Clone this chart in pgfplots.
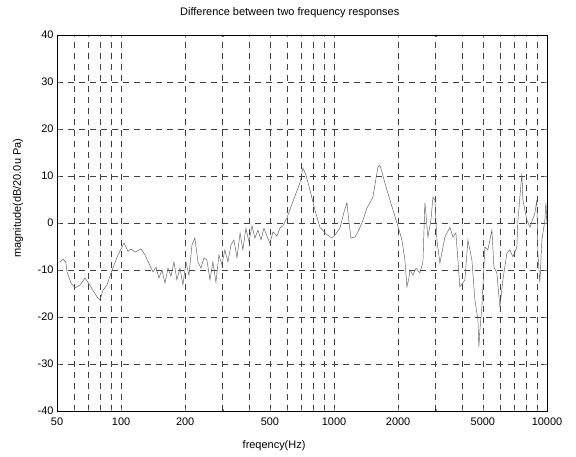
\documentclass[border=0pt]{standalone}
\usepackage{fontspec}
\setmainfont{Liberation Sans}
\usepackage{pgfplots}
\pgfplotsset{compat=1.18}
\begin{document}
\begin{tikzpicture}
\path[use as bounding box] (-57bp,-46bp) rectangle (519bp,411bp);
\begin{axis}[
  scale only axis, width=490bp, height=376bp,
  xmode=log, log basis x=10,
  xmin=50, xmax=10000, ymin=-40, ymax=40,
  xtick={50,100,200,500,1000,2000,5000,10000},
  xticklabels={50,100,200,500,1000,2000,5000,10000},
  minor xtick={60,70,80,90,300,400,600,700,800,900,3000,4000,6000,7000,8000,9000},
  ytick={-40,-30,-20,-10,0,10,20,30,40},
  yticklabels={-40,-30,-20,-10,0,10,20,30,40},
  tick label style={font=\fontsize{11}{13}\selectfont},
  tick align=inside, major tick length=3bp, minor tick length=2bp,
  xticklabel style={yshift=-3bp},
  grid=both,
  major grid style={black!75, dash pattern=on 6bp off 5bp, line width=0.5pt},
  minor grid style={black!75, dash pattern=on 6bp off 5bp, line width=0.5pt},
  axis line style={black, line width=0.6pt},
  title={Difference between two frequency responses},
  title style={font=\fontsize{11}{13}\selectfont, at={(axis description cs:0.475,1)}, anchor=center, yshift=16bp},
  xlabel={freqency(Hz)},
  xlabel style={font=\fontsize{11}{13}\selectfont, at={(axis description cs:0.443,-0.093)}, anchor=center},
  ylabel={magnitude(dB/20.0u Pa)},
  ylabel style={font=\fontsize{11}{13}\selectfont, at={(axis description cs:-0.0796,0.566)}, anchor=center},
]
\addplot[gray!70!black, line width=0.45pt] coordinates {
(51.6,-8.3) (53.3,-7.7) (55,-8.3) (55.7,-10.4) (58.2,-12.8) (60.8,-13.8)
(64.1,-13.2) (67.7,-11.7) (69.9,-12.6) (73.0,-14.0) (77.1,-15.7) (79.6,-16.4)
(82.2,-14.3) (85.8,-13.2) (90.7,-10) (96.7,-6.8) (103.2,-4.3) (105.4,-5.1)
(107.7,-6.0) (111.3,-5.5) (116.2,-6.2) (124,-5.5) (129.5,-6.8) (136.7,-9.1)
(141.1,-10.4) (145.8,-9.4) (150.6,-11.7) (155.6,-10) (160.7,-12.8) (166,-9.6)
(171.5,-11.3) (177.1,-8.3) (182.9,-12.1) (189,-9.6) (195.2,-13.2) (201.6,-8.3)
(208.3,-11.1) (215.2,-4.7) (222,-3.2) (229.6,-8.3) (237.2,-9.6) (245,-7.4)
(253,-7.9) (261.3,-12.1) (269.9,-8.3) (278.8,-12.6) (288,-6.8) (297.5,-8.9)
(307,-5.7) (317.5,-8.3) (328,-4.7) (338.8,-3.6) (350,-7.4) (362,-2.1)
(373,-5.7) (385.7,-1.1) (398.5,-4.0) (411.6,-0.6) (425,-3.2) (439,-1.5)
(453.7,-3.6) (468.6,-1.1) (484,-2.8) (500,-4.3) (516.5,-1.9) (539,-2.8)
(557,-1.1) (575,-0.6) (601,1.1) (620,2.8) (655,5.7) (691,8.5) (714,11.7)
(738,10.2) (771,7.0) (813,2.8) (858,-0.9) (916,-2.3) (977,-3.2) (1020,-2.3)
(1066,-1.1) (1113,2.3) (1149,4.3) (1175,0.2) (1200,-3.2) (1253,-3.0)
(1308,-1.5) (1367,0.6) (1427,3.2) (1474,4.3) (1522,5.5) (1556,8.1)
(1607,11.9) (1642,12.3) (1678,10.9) (1733,8.5) (1830,4.9) (1974,0)
(2083,-3.6) (2152,-7.9) (2199,-13.6) (2247,-11.7) (2271,-10) (2347,-11.1)
(2424,-9.6) (2530,-10.6) (2614,-8.3) (2671,4.3) (2759,-3.0) (2850,0.6)
(2913,5.5) (2976,4.9) (3040,-3.6) (3142,-8.5) (3316,-3.0) (3500,-0.9)
(3616,-3.0) (3734,-2.1) (3899,-13.6) (4116,-12.1) (4251,-3.6) (4440,-7.9)
(4586,-16.4) (4737,-20.6) (4788,-26.4) (4840,-22.8) (4946,-17.9) (5108,-5.1)
(5277,-5.7) (5512,-1.5) (5631,-9.4) (5816,-10.6) (6008,-17.9) (6207,-12.1)
(6482,-6.4) (6696,-5.7) (6917,-7.2) (7222,-5.1) (7301,0.6) (7624,10.6)
(7707,4.9) (8047,0.6) (8313,-0.9) (8770,2.1) (8963,4.9) (9062,-6.4)
(9258,-12.8) (9462,-3.6) (9774,0.6) (9880,4.3) (10000,-0.4)
};
\end{axis}
\end{tikzpicture}
\end{document}
